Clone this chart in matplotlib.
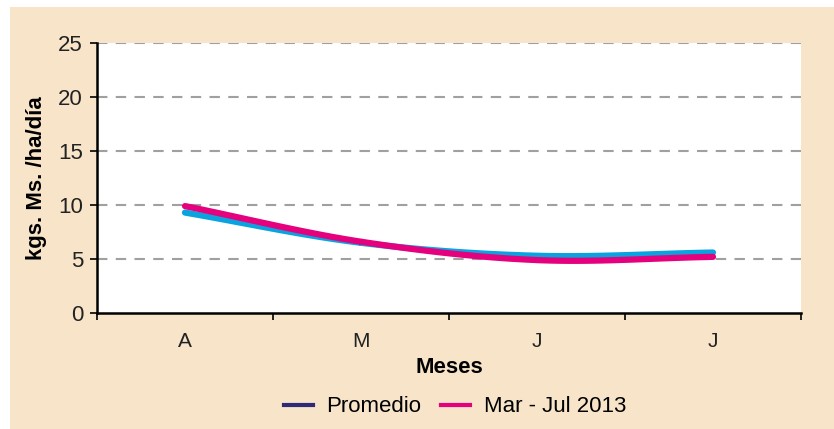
import numpy as np
import matplotlib
matplotlib.use('Agg')
import matplotlib.pyplot as plt
from matplotlib.patches import Rectangle
from matplotlib.lines import Line2D

plt.rcParams['font.family'] = ['Liberation Sans Narrow', 'Liberation Sans', 'DejaVu Sans']

meses = ['A', 'M', 'J', 'J']
promedio = [9.3, 6.5, 5.3, 5.6]
mar_jul_2013 = [9.9, 6.6, 4.9, 5.2]

CREMA = '#F8E5C9'
CIAN = '#0AA3E0'
MAGENTA = '#E5007E'
AZUL = '#2E2A78'


# curva suavizada tipo Excel (Catmull-Rom) entre los puntos
def suavizar(y, n=30):
    x = np.arange(len(y), dtype=float)
    y = np.asarray(y, dtype=float)
    px = np.concatenate([[2 * x[0] - x[1]], x, [2 * x[-1] - x[-2]]])
    py = np.concatenate([[2 * y[0] - y[1]], y, [2 * y[-1] - y[-2]]])
    xs, ys = [], []
    for i in range(1, len(px) - 2):
        t = np.linspace(0, 1, n)
        for p, out in ((px, xs), (py, ys)):
            p0, p1, p2, p3 = p[i - 1], p[i], p[i + 1], p[i + 2]
            out.extend(0.5 * ((2 * p1) + (-p0 + p2) * t
                              + (2 * p0 - 5 * p1 + 4 * p2 - p3) * t ** 2
                              + (-p0 + 3 * p1 - 3 * p2 + p3) * t ** 3))
    return np.array(xs), np.array(ys)


fig = plt.figure(figsize=(8.34, 4.29), dpi=100)
fig.patch.set_facecolor('white')
fig.patches.append(Rectangle((10 / 834, 0), 1, 1 - 7 / 429, transform=fig.transFigure,
                             facecolor=CREMA, edgecolor='none', zorder=-5))

ax = fig.add_axes([97 / 834, 1 - 313 / 429, (801 - 97) / 834, (313 - 43) / 429])
ax.set_zorder(2)
ax.set_facecolor('white')

x1, y1 = suavizar(promedio)
x2, y2 = suavizar(mar_jul_2013)
ax.plot(x1, y1, color=CIAN, lw=4.5, solid_capstyle='round', zorder=3)
ax.plot(x2, y2, color=MAGENTA, lw=4.5, solid_capstyle='round', zorder=4)

ax.set_xlim(-0.5, 3.5)
ax.set_ylim(0, 25)
ax.set_yticks(range(0, 26, 5))
for v in range(5, 26, 5):
    ax.axhline(v, color='#A0A0A0', lw=1.5, dashes=(5, 4), zorder=1)

ax.set_xticks(np.arange(-0.5, 4, 1))
ax.set_xticklabels([])
ax.set_xticks(range(4), minor=True)
ax.set_xticklabels(meses, minor=True)
ax.tick_params(axis='x', which='major', length=5, width=1.2, direction='out')
ax.tick_params(axis='x', which='minor', length=0, pad=14, labelsize=15, labelcolor='#222222')
ax.tick_params(axis='y', length=5, width=1.2, labelsize=16, pad=5, labelcolor='#222222')

for s in ['top', 'right']:
    ax.spines[s].set_visible(False)
for s in ['left', 'bottom']:
    ax.spines[s].set_linewidth(1.8)

ax.set_ylabel('kgs. Ms. /ha/día', fontsize=16, fontweight='bold',
              family=['Liberation Sans', 'DejaVu Sans'], labelpad=8)
ax.set_xlabel('Meses', fontsize=16, fontweight='bold',
              family=['Liberation Sans Narrow', 'Liberation Sans'], labelpad=4)

handles = [Line2D([], [], color=AZUL, lw=3), Line2D([], [], color=MAGENTA, lw=3)]
fig.legend(handles, ['Promedio', 'Mar - Jul 2013'], loc='center',
           bbox_to_anchor=(455 / 834, 1 - 407 / 429), ncol=2, frameon=False,
           fontsize=16, handlelength=1.3, columnspacing=0.9, handletextpad=0.6)

fig.savefig('out.png', dpi=100, facecolor=fig.get_facecolor())
